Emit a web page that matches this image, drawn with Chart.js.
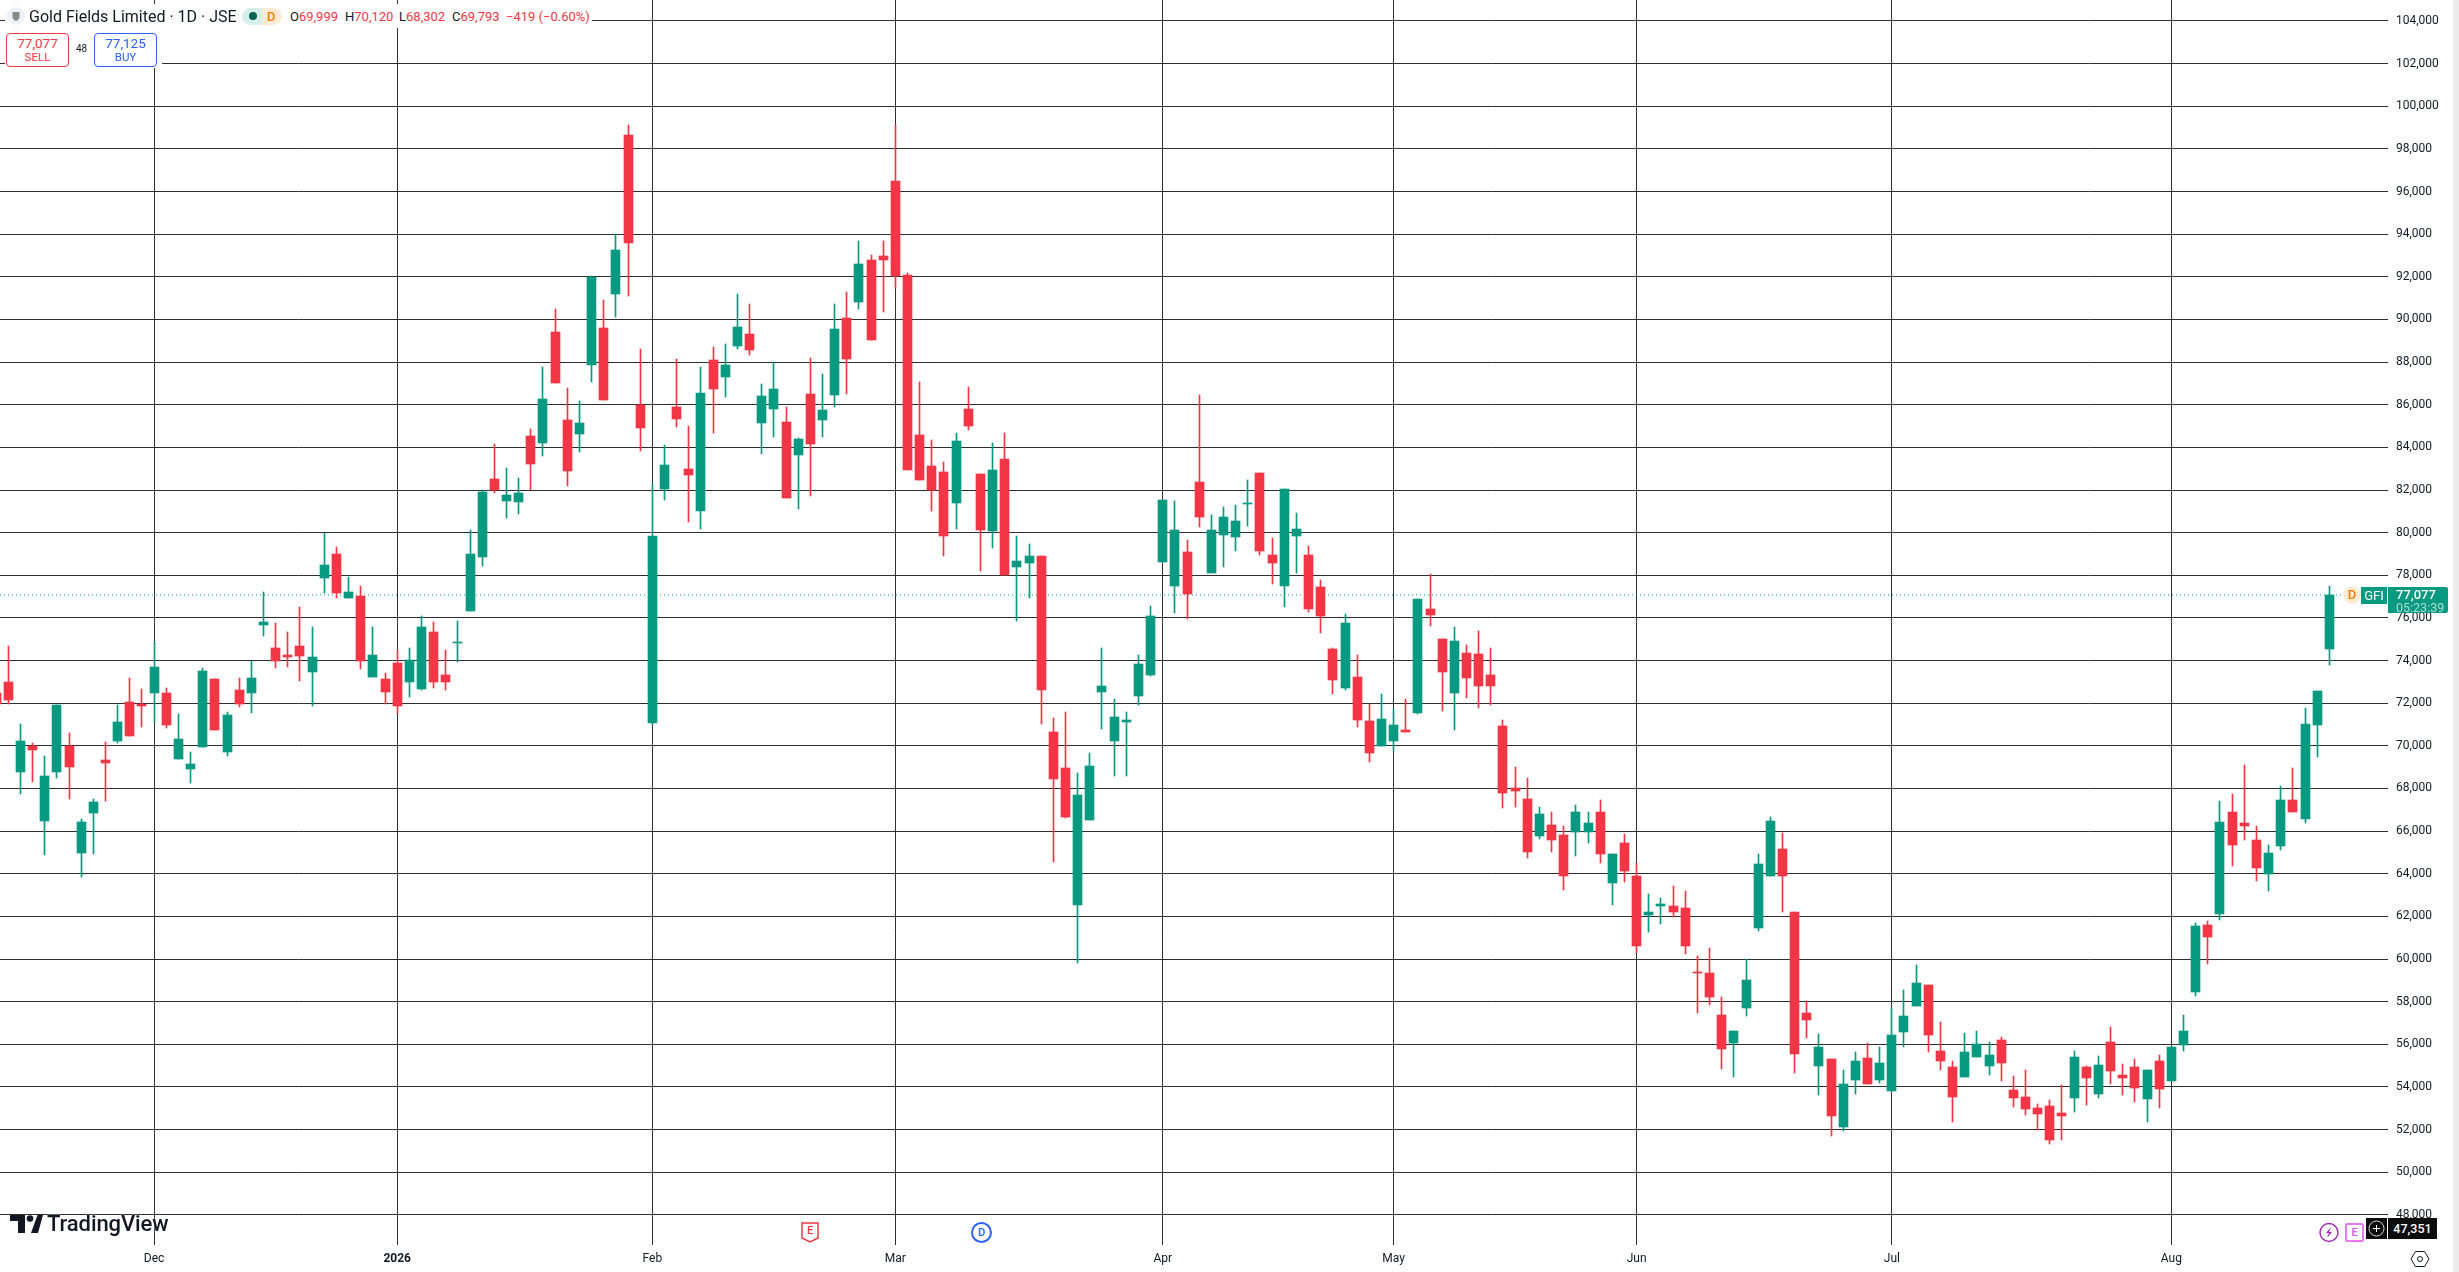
<!DOCTYPE html>
<html>
<head>
<meta charset="utf-8">
<title>Gold Fields Limited</title>
<script src="https://cdn.jsdelivr.net/npm/chart.js@4/dist/chart.umd.min.js"></script>
<style>
  html, body { margin: 0; padding: 0; background: #ececec; overflow: hidden; }
  body { width: 2459px; height: 1272px; position: relative; font-family: Roboto, sans-serif; color: #131722; }
  #chart { position: absolute; left: 0; top: 0; background: #fff; }
  .abs { position: absolute; white-space: nowrap; }
  .white { position: absolute; background: #fff; }
  .red { color: #f23645; }
  .tag { position: absolute; background: #089981; color: #fff; font-size: 13px; }
  .ohlc { position: absolute; top: 8px; white-space: nowrap; font-size: 13px; line-height: 17px; }
  .box { position: absolute; top: 33px; width: 61px; height: 32px; border: 1px solid; border-radius: 4px; background: #fff; text-align: center; font-size: 12px; line-height: 14px; }
  .box b { display: block; font-weight: 400; font-size: 13.5px; margin-top: 2px; }
  .box span { font-size: 11.5px; }
</style>
</head>
<body>
<canvas id="chart" width="2453" height="1272"></canvas>

<!-- legend -->
<div class="white" style="left:5px;top:4px;width:587px;height:24px"></div>
<div class="white" style="left:5px;top:28px;width:157px;height:40px"></div>
<svg class="abs" style="left:7px;top:7px" width="18" height="18">
  <circle cx="9" cy="9" r="9" fill="#eef0f6"/>
  <path d="M5.5 5h7v5c0 2-2 3.500-3.500 4-1.500-.5-3.500-2-3.500-4z" fill="#8a8a84"/>
</svg>
<div class="abs" style="left:29px;top:7px;font-size:16px;line-height:19px">Gold Fields Limited · 1D · JSE</div>
<div class="abs" style="left:242px;top:8px;width:20px;height:17px;background:#d7eee9;border-radius:9px 0 0 9px"></div>
<div class="abs" style="left:262px;top:8px;width:20px;height:17px;background:#fdecd3;border-radius:0 9px 9px 0"></div>
<div class="abs" style="left:249px;top:12px;width:8px;height:8px;background:#056656;border-radius:50%"></div>
<div class="abs" style="left:267px;top:8px;font-size:13px;line-height:17px;font-weight:500;color:#f57c00">D</div>
<div class="ohlc" style="left:290px">O<span class="red">69,999</span></div>
<div class="ohlc" style="left:345px">H<span class="red">70,120</span></div>
<div class="ohlc" style="left:399px">L<span class="red">68,302</span></div>
<div class="ohlc" style="left:452px">C<span class="red">69,793</span></div>
<div class="ohlc red" style="left:506px">−419 (−0.60%)</div>

<div class="box" style="left:6px;border-color:#f23645;color:#f23645"><b>77,077</b><span>SELL</span></div>
<div class="abs" style="left:76px;top:43px;font-size:10px;line-height:12px">48</div>
<div class="box" style="left:94px;border-color:#2962ff;color:#2962ff"><b>77,125</b><span>BUY</span></div>

<!-- last price tags -->
<div class="abs" style="left:2343px;top:586px;width:18px;height:18px;border-radius:50%;background:#fdecd3;color:#f57c00;font-size:13px;line-height:18px;text-align:center;font-weight:500">D</div>
<div class="tag" style="left:2361px;top:587px;width:26px;height:17px;line-height:17px;text-align:center;font-size:13px">GFI</div>
<div class="tag" style="left:2388px;top:587px;width:60px;height:26px;padding:0;border-radius:0 2px 2px 0">
  <div style="margin-left:8px;line-height:15px;font-size:13px;font-weight:500">77,077</div>
  <div style="margin-left:8px;line-height:12px;font-size:12.5px;color:#a8dcd1">05:23:39</div>
</div>

<!-- low bottom tags -->
<div class="abs" style="left:2366px;top:1218px;width:21px;height:21px;background:#0c0c0c"></div>
<svg class="abs" style="left:2366px;top:1218px" width="21" height="21">
  <circle cx="10.500" cy="10.500" r="7.500" fill="none" stroke="#d8d8d8"/>
  <path d="M7 10.500h7M10.500 7v7" stroke="#fff"/>
</svg>
<div class="abs" style="left:2388px;top:1218px;width:49px;height:21px;background:#0c0c0c;color:#fff;font-size:12.500px;line-height:21px;text-align:center;font-weight:500">47,351</div>
<svg class="abs" style="left:2319px;top:1222px" width="20" height="21">
  <circle cx="10" cy="10.500" r="9" fill="none" stroke="#9c27b0" stroke-width="1.400"/>
  <path d="M12 5l-5 6h3l-2 5 5-6h-3z" fill="#9c27b0"/>
</svg>
<div class="abs" style="left:2345px;top:1223px;width:15px;height:15px;border:2px solid #e879f0;border-radius:2px;color:#d35ae0;font-size:11px;line-height:15px;text-align:center;font-weight:500;background:#fff">E</div>
<svg class="abs" style="left:2410px;top:1250px" width="20" height="18">
  <path d="M1 9l4.500-7.500h9L19 9l-4.500 7.500h-9z" fill="none" stroke="#131722"/>
  <circle cx="10" cy="9" r="2.500" fill="none" stroke="#131722"/>
</svg>

<!-- bottom logo and event marks -->
<svg class="abs" style="left:10px;top:1215px" width="33" height="18" viewBox="0 0 33 18">
  <path d="M15 0H0v6h8v12h7zM28 18h-7L27.500 0h5.500z" fill="#131722"/>
  <circle cx="20" cy="3.500" r="3.300" fill="#131722"/>
</svg>
<div class="abs" style="left:47px;top:1211px;font-size:22px;line-height:26px;font-weight:500;letter-spacing:-.1px;text-shadow:0 0 2px #fff">TradingView</div>
<svg class="abs" style="left:801px;top:1222px" width="18" height="21">
  <path d="M1 1h16v15l-8 4-8-4z" fill="#fff" stroke="#f23645" stroke-width="1.500"/>
</svg>
<div class="abs" style="left:801px;top:1223px;width:18px;text-align:center;color:#f23645;font-size:11px;line-height:16px;font-weight:500">E</div>
<div class="abs" style="left:971px;top:1222px;width:17px;height:17px;border:2px solid #2962ff;border-radius:50%;background:#fff;color:#2962ff;font-size:11px;line-height:17px;text-align:center;font-weight:500">D</div>

<script>
// daily candles, index 0 is the partly cut one on the left edge
const opens = [
  72466,72982,68762,69999,66464,68762,70012,64964,66840,69325,
  70216,72044,71982,72466,72466,69372,68903,69934,73123,69700,
  72607,72466,75655,74576,74248,74670,73451,77859,78984,76921,
  77015,73217,73123,73873,72982,72654,75327,73310,74811,76311,
  78868,82526,81494,81447,84542,84214,89418,85292,84636,87871,
  89606,91200,98656,85980,71054,82057,85902,82995,81025,88106,
  87308,88762,89325,85151,85808,85198,83651,86511,85292,86464,
  90075,90825,92795,92982,96499,92091,84589,83135,82854,81400,
  85808,82760,80087,83463,78383,78574,78904,70645,68945,62525,
  66516,72519,70211,71114,72328,73317,78609,77481,79077,82374,
  78106,79875,79789,81333,82790,78939,77481,79841,78939,77446,
  74532,72710,73213,71148,70000,70211,70732,71530,76438,75031,
  72499,74374,74328,73343,70952,68044,67529,65794,66309,65840,
  65981,65981,66919,63590,65465,63918,62089,62511,62511,62418,
  59389,59357,57388,56075,57716,61467,63906,65172,62218,57482,
  54996,55325,52136,54340,55372,54340,53824,56591,57810,58795,
  55700,54950,54481,55419,54996,56216,53871,53543,53027,53121,
  52793,53496,54953,53692,56093,54573,54953,53415,55195,54296,
  55972,58461,61588,62090,66911,66392,65597,64008,65321,67481,
  66582,70972,74548
];
const highs = [
  72763,74670,71013,70120,69512,71904,70591,66558,67496,70169,
  71904,73170,72654,74858,72701,71482,69700,73639,73123,71575,
  73170,74000,77202,75749,75327,76499,75561,80000,79312,77906,
  77484,75561,73404,74483,74576,76077,75796,74483,75842,80109,
  81994,84167,83041,82573,84870,87777,90497,86793,86183,92044,
  90919,94014,99125,88621,82291,84120,88152,85011,87777,88715,
  88856,91200,90731,86980,88012,85902,84448,88199,87449,90731,
  91294,93685,93029,93685,99125,92185,87074,84354,83323,84683,
  86840,82760,84214,84683,79841,79459,78904,71305,71582,68719,
  69656,74584,72189,71582,74254,76544,81524,81472,79650,86438,
  80812,81194,81281,82461,82790,79737,82027,80916,79372,77776,
  74584,76180,74254,71946,72415,71686,72189,76900,78060,75031,
  75594,74750,75406,74609,71233,69029,68513,67153,66919,66263,
  67247,66919,67482,64950,65887,64528,63074,62886,63449,63215,
  60154,60529,58232,56638,60000,64937,66672,65922,62218,58044,
  56497,55325,54809,55653,56075,55887,57716,58560,59732,58795,
  57060,55231,56544,56638,56122,56356,54528,54809,53215,53402,
  54106,55700,55005,55471,56819,55091,55333,54815,55506,55886,
  57389,61675,61779,67429,67757,69105,66254,65373,68103,68967,
  71766,72561,77521
];
const lows = [
  71763,71982,67730,68302,64870,68481,67496,63839,64917,67402,
  70122,70450,70872,71107,70825,69372,68246,69934,70731,69512,
  71810,71529,75139,73639,73685,73029,71857,77155,76921,76921,
  73592,73217,71982,71529,72279,72607,72701,72607,73920,76311,
  78446,81869,80697,80885,81994,83604,87027,82197,83792,87074,
  86230,90122,91107,83839,71000,81541,84964,80509,80181,84683,
  86371,88621,88340,83698,84495,81635,81119,81729,84495,85902,
  86511,90497,89043,90356,91482,82948,82479,81025,78915,80181,
  84823,78212,79290,78000,75850,76926,71010,64538,66603,59801,
  66516,70784,68581,68581,71912,73265,78609,76215,75937,80257,
  78106,78383,79129,80309,78939,77585,76510,78106,76267,75278,
  72415,72606,70871,69240,70000,69778,70645,71500,75640,71655,
  70764,72264,71796,71936,67107,67153,64762,65653,65043,63262,
  64856,65465,64528,62558,63637,60261,61292,61667,61996,60214,
  57482,57857,54856,54481,57341,61327,63906,62218,54668,56309,
  53637,51714,51949,53684,54152,54199,53824,55887,57810,55653,
  54809,52371,54481,55419,54574,54293,53074,52699,51996,51339,
  51527,52840,53139,53467,54158,53640,53311,52378,53035,54296,
  55696,58271,59757,61813,64388,65597,63645,63178,65096,66911,
  66392,69485,73788
];
const closes = [
  71950,72138,70216,69793,68575,71904,68996,66418,67355,69184,
  71107,70450,71857,73685,70966,70309,69137,73498,70731,71435,
  71982,73170,75796,73967,74154,74201,74154,78468,77155,77202,
  73967,74248,72513,71857,74014,75561,72982,72982,74858,78984,
  81916,81994,81775,81869,83229,86277,87027,82901,85151,91997,
  86230,93263,93592,84917,79853,83182,85339,82713,86558,86746,
  87871,89653,88574,86418,86746,81635,84401,84167,85761,89559,
  88152,92607,89043,92795,92044,82948,82479,82010,79853,84307,
  85011,80134,82948,78000,78661,78904,72606,68442,66655,67678,
  69049,72797,71339,71200,73838,76076,81524,80118,77117,80726,
  80118,80726,80535,81385,79129,78574,82027,80170,76405,76076,
  73074,75746,71200,69656,71252,70975,70645,76874,76156,73484,
  74937,73202,72827,72827,67810,67904,65043,66825,65606,63918,
  66919,66403,64950,64950,64152,60589,62230,62605,62230,60589,
  59358,58232,55794,56638,59029,64468,66485,63906,55559,57153,
  55887,52652,54152,55231,54152,55137,56450,57341,58888,56450,
  55231,53543,55653,56028,55512,55137,53496,52980,52746,51527,
  52652,55419,54400,55039,54763,54400,53933,54815,53882,55886,
  56629,61537,61018,66444,65373,66220,64250,64993,67481,66911,
  71023,72561,77077
];

const monthTicks = [13, 33, 54, 74, 96, 115, 135, 156, 179];
const monthLabels = ['Dec', '2026', 'Feb', 'Mar', 'Apr', 'May', 'Jun', 'Jul', 'Aug'];
const priceTicks = [48000, 50000, 52000, 54000, 56000, 58000, 60000, 62000, 64000, 66000,
  68000, 70000, 72000, 74000, 76000, 78000, 80000, 82000, 84000, 86000, 88000, 90000,
  92000, 94000, 96000, 98000, 100000, 102000, 104000];
const lastPrice = closes[closes.length - 1];

const UP = '#089981';
const DOWN = '#f23645';
const GRID = '#2e2e2e';
const X_MIN = 0.317;
const X_MAX = 196.83;

const candleColor = (ctx) => closes[ctx.dataIndex] >= opens[ctx.dataIndex] ? UP : DOWN;

// bars land on fractions of a pixel, push them on whole pixels so the wicks stay sharp
const snapBars = {
    id: 'snapBars',
    beforeDatasetsDraw(chart) {
        chart.data.datasets.forEach((ds, i) => {
            if (ds.type === 'line') return;
            chart.getDatasetMeta(i).data.forEach((bar) => {
                bar.x = Math.floor(bar.x) + 0.5;
                bar.y = Math.round(bar.y);
                bar.base = Math.round(bar.base);
            });
        });
    },
};

new Chart(document.getElementById('chart'), {
    type: 'bar',
    plugins: [snapBars],
    data: {
        datasets: [
            {
                label: 'Body',
                data: opens.map((o, i) => ({ x: i, y: [o, closes[i]] })),
                backgroundColor: candleColor,
                barThickness: 9,
                grouped: false,
                order: 1,
            },
            {
                label: 'Wick',
                data: lows.map((l, i) => ({ x: i, y: [l, highs[i]] })),
                backgroundColor: candleColor,
                barThickness: 1,
                grouped: false,
                order: 2,
            },
            {
                type: 'line',
                label: 'Last',
                data: [{ x: X_MIN, y: lastPrice }, { x: X_MAX, y: lastPrice }],
                borderColor: UP,
                borderWidth: 1,
                borderDash: [1, 3],
                pointRadius: 0,
                order: 3,
            },
        ],
    },
    options: {
        responsive: false,
        animation: false,
        layout: { padding: 0 },
        plugins: {
            legend: { display: false },
            tooltip: { enabled: false },
        },
        scales: {
            x: {
                type: 'linear',
                min: X_MIN,
                max: X_MAX,
                offset: false,
                afterBuildTicks: (axis) => { axis.ticks = monthTicks.map((value) => ({ value })); },
                afterFit: (axis) => {
                    axis.height = 27;
                    axis.paddingLeft = 0;
                    axis.paddingRight = 0;
                },
                border: { display: false },
                grid: { color: GRID, lineWidth: 1, drawTicks: false, offset: false },
                ticks: {
                    autoSkip: false,
                    maxRotation: 0,
                    padding: 7,
                    color: '#131722',
                    font: (ctx) => ({ family: 'Roboto', size: 12, weight: ctx.index === 1 ? '700' : '400' }),
                    callback: (value, index) => monthLabels[index],
                },
            },
            y: {
                type: 'linear',
                position: 'right',
                min: 46588,
                max: 104984,
                afterBuildTicks: (axis) => { axis.ticks = priceTicks.map((value) => ({ value })); },
                afterFit: (axis) => {
                    axis.width = 65;
                    axis.paddingTop = 0;
                    axis.paddingBottom = 0;
                },
                border: { display: false },
                grid: { color: GRID, lineWidth: 1, drawTicks: false },
                ticks: {
                    padding: 8,
                    color: '#131722',
                    font: { family: 'Roboto', size: 12 },
                    callback: (value) => value.toLocaleString('en-US'),
                },
            },
        },
    },
});
</script>
</body>
</html>
